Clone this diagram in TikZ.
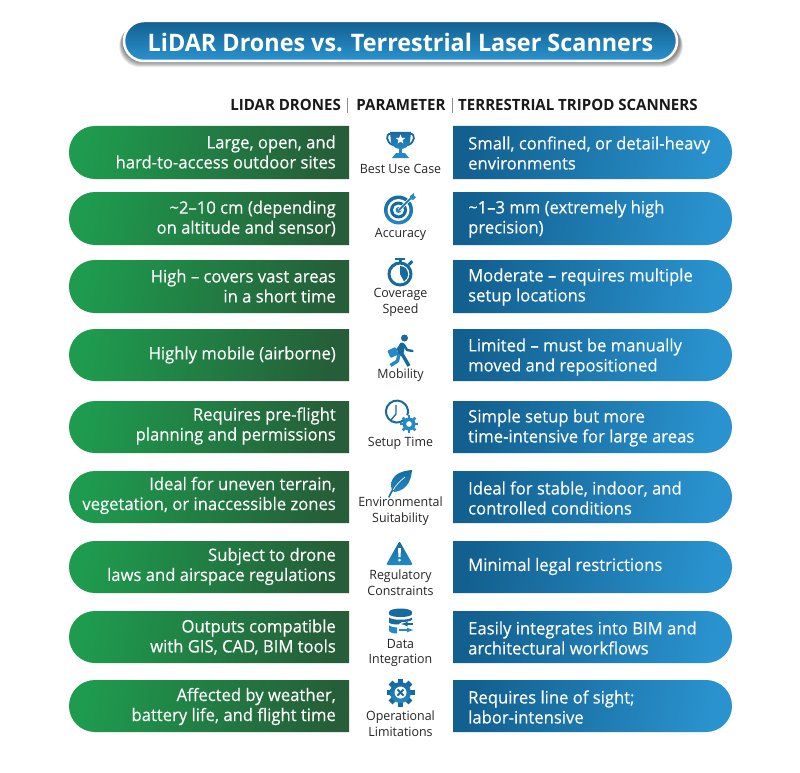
\documentclass[tikz,border=0pt]{standalone}
\usepackage{fontspec}
\setmainfont{Open Sans}[FakeStretch=0.97]
\newfontfamily\medfont{Open Sans}[FakeStretch=0.97,FakeBold=0.25]
\usetikzlibrary{shapes.geometric}
\definecolor{gl}{HTML}{1E9B4E}
\definecolor{gd}{HTML}{255E38}
\definecolor{bd}{HTML}{12608F}
\definecolor{bl}{HTML}{2A93CF}
\definecolor{ic}{HTML}{176A9E}
\definecolor{icl}{HTML}{2489C4}
\tikzset{
  x=1pt,y=-1pt,
  ltext/.style={anchor=east,align=right,text=white,font=\medfont\fontsize{17.15}{20}\selectfont,inner sep=0pt},
  rtext/.style={anchor=west,align=left,text=white,font=\medfont\fontsize{17.15}{20}\selectfont,inner sep=0pt},
  ptext/.style={align=center,text=black!85,font=\fontsize{12.8}{15.7}\selectfont,inner sep=0pt},
  htext/.style={inner sep=0pt,text=black!90,font=\fontsize{15.5}{16}\selectfont\bfseries},
  iconfill/.style={top color=ic,bottom color=icl},
}
\newcommand{\lpill}[2]{\shade[left color=gl,right color=gd,shading angle=80] (349,#1) [rounded corners=26pt] -- (69,#1) -- (69,#2) [sharp corners] -- (349,#2) -- cycle;}
\newcommand{\rpill}[2]{\shade[left color=bd,right color=bl,shading angle=80] (453,#1) [rounded corners=26pt] -- (732,#1) -- (732,#2) [sharp corners] -- (453,#2) -- cycle;}
\begin{document}
\begin{tikzpicture}
\useasboundingbox (0,0) rectangle (800,773);
\fill[white] (0,0) rectangle (800,773);
% title
\foreach \d in {0,1,...,7}{
  \fill[black,opacity=0.07,rounded corners=21pt] (122-\d*0.4,22+\d*0.4) rectangle (680+\d*0.4,62+\d*0.75);
}
\shade[top color=bd,bottom color=bl,draw=white,line width=2.5pt,rounded corners=20pt] (124,21) rectangle (677,61);
\node[inner sep=0pt,text=white,font=\fontsize{24.1}{30}\selectfont\bfseries] (title) at (400.5,43) {LiDAR Drones vs. Terrestrial Laser Scanners};
% header
\node[htext,anchor=base east] (h1) at (341,110.5) {LIDAR DRONES};
\node[htext,anchor=base] (h2) at (401,110.5) {PARAMETER};
\node[htext,anchor=base west] (h3) at (458,110.5) {TERRESTRIAL TRIPOD SCANNERS};
\draw[black!45,line width=0.6pt] (347,98) -- (347,113) (452,98) -- (452,113);
% pills
\lpill{126}{179}\rpill{126}{179}
\lpill{192}{245}\rpill{192}{245}
\lpill{260}{313}\rpill{260}{313}
\lpill{329}{381}\rpill{329}{381}
\lpill{401}{453}\rpill{401}{453}
\lpill{471}{523}\rpill{471}{523}
\lpill{541}{593}\rpill{541}{593}
\lpill{611}{663}\rpill{611}{663}
\lpill{680}{732}\rpill{680}{732}
% left text
\node[ltext] (l1) at (336,152) {Large, open, and\\hard-to-access outdoor sites};
\node[ltext] (l2) at (336,218.5) {\textasciitilde 2–10 cm (depending\\on altitude and sensor)};
\node[ltext] (l3) at (336,286) {High – covers vast areas\\in a short time};
\node[ltext] (l4) at (336,355) {Highly mobile (airborne)};
\node[ltext] (l5) at (336,426) {Requires pre-flight\\planning and permissions};
\node[ltext] (l6) at (336,495.5) {Ideal for uneven terrain,\\vegetation, or inaccessible zones};
\node[ltext] (l7) at (336,566.5) {Subject to drone\\laws and airspace regulations};
\node[ltext] (l8) at (336,637) {Outputs compatible\\with GIS, CAD, BIM tools};
\node[ltext] (l9) at (336,706.5) {Affected by weather,\\battery life, and flight time};
% right text
\node[rtext] (r1) at (468,153) {Small, confined, or detail-heavy\\environments};
\node[rtext] (r2) at (468,219) {\textasciitilde 1–3 mm (extremely high\\precision)};
\node[rtext] (r3) at (468,287) {Moderate – requires multiple\\setup locations};
\node[rtext] (r4) at (468,357) {Limited – must be manually\\moved and repositioned};
\node[rtext] (r5) at (468,428) {Simple setup but more\\time-intensive for large areas};
\node[rtext] (r6) at (468,498) {Ideal for stable, indoor, and\\controlled conditions};
\node[rtext] (r7) at (468,566.5) {Minimal legal restrictions};
\node[rtext] (r8) at (468,638) {Easily integrates into BIM and\\architectural workflows};
\node[rtext] (r9) at (468,707) {Requires line of sight;\\labor-intensive};
% parameter labels
\node[ptext] (p1) at (400.5,168.5) {Best Use Case};
\node[ptext] (p2) at (400.5,234) {Accuracy};
\node[ptext] (p3) at (400.5,302.5) {Coverage\\Speed};
\node[ptext] (p4) at (400.5,375) {Mobility};
\node[ptext] (p5) at (400.5,443) {Setup Time};
\node[ptext] (p6) at (400.5,511.5) {Environmental\\Suitability};
\node[ptext] (p7) at (400.5,582.5) {Regulatory\\Constraints};
\node[ptext] (p8) at (400.5,653) {Data\\Integration};
\node[ptext] (p9) at (400.5,724) {Operational\\Limitations};
% trophy
\draw[ic,line width=1.8pt] (391,134) .. controls (385,133) and (386,143) .. (393,145);
\draw[ic,line width=1.8pt] (410,134) .. controls (416,133) and (415,143) .. (408,145);
\shade[iconfill] (390,132) -- (411,132) -- (410,142) .. controls (409,147) and (404,149) .. (400.5,149) .. controls (397,149) and (392,147) .. (391,142) -- cycle;
\fill[icl] (399,149) rectangle (402,154);
\fill[icl] (396,153) -- (405,153) -- (409,158) -- (392,158) -- cycle;
\node[star,star points=5,star point ratio=2.3,fill=white,inner sep=0pt,minimum size=10pt] (trophystar) at (400.5,139.5) {};
% target
\shade[iconfill] (398.5,210) circle (14.5);
\fill[white] (398.5,210) circle (11);
\fill[ic] (398.5,210) circle (8.5);
\fill[white] (398.5,210) circle (5.5);
\fill[icl] (398.5,210) circle (3);
\draw[white,line width=3pt] (399,210) -- (412,197);
\draw[ic,line width=1.5pt] (399,210) -- (412,197);
\fill[icl] (410,196) -- (414,193) -- (414,196) -- (416,197) -- (413,200) -- (410,199) -- cycle;
% stopwatch
\draw[ic,line width=3pt] (400,274) circle (11);
\fill[ic] (395,257.5) rectangle (405,260);
\fill[ic] (398.5,260) rectangle (401.5,263);
\fill[ic,rotate around={45:(410.5,263)}] (408,261.5) rectangle (413,264.5);
\fill[ic] (400,274) -- (400,266) .. controls (405,266) and (408,270) .. (408,274) .. controls (408,278) and (406,280) .. (404,281.5) -- cycle;
% walker
\fill[ic] (404.5,338) circle (3.5);
\draw[ic,line width=6pt,line cap=round] (402,345.5) -- (400.5,353);
\draw[ic,line width=2.4pt,line cap=round,line join=round] (404,345) -- (407,350) -- (412.5,351);
\draw[ic,line width=3.4pt,line join=round] (402,354) -- (405,359) -- (409,366);
\draw[icl,line width=3.4pt,line join=round] (399,354) -- (397.5,361) -- (390.5,365.5);
\draw[ic,line width=2pt,line cap=round] (400,346) -- (396,351);
\fill[icl,rounded corners=1pt,rotate around={25:(393,352.5)}] (388.5,348.5) rectangle (397.5,356.5);
% clock + gear
\draw[ic,line width=2pt] (404,420) arc[start angle=50,end angle=380,radius=11] ;
\draw[ic,line width=1.3pt] (396,405) -- (396,414) -- (391,420);
\foreach \a in {0,45,...,315}{\fill[icl] (409,424) ++(\a:6) ++(\a+90:1.4) -- ++(\a:3) -- ++(\a+90:-2.8) -- ++(\a:-3) -- cycle;}
\fill[icl] (409,424) circle (6.5);
\fill[white] (409,424) circle (2.8);
% leaf
\shade[top color=ic,bottom color=icl] (412,470) .. controls (399,471) and (391,476) .. (391,486) .. controls (391,489) and (392,491) .. (394,492) .. controls (404,491) and (411,484) .. (412,470) -- cycle;
\draw[ic,line width=1.6pt,line cap=round] (389,497) .. controls (392,490) and (397,482) .. (405,477);
\draw[white,line width=0.7pt] (393,490) .. controls (396,485) and (400,481) .. (405,477);
% warning
\shade[iconfill,rounded corners=2pt] (399.5,541) -- (413,565) -- (386,565) -- cycle;
\fill[white] (398,548) -- (401,548) -- (400.5,557) -- (398.5,557) -- cycle;
\fill[white] (399.5,560) circle (1.5);
% database
\fill[ic] (400.5,612) ellipse (11.5 and 3.5);
\fill[ic] (389,612) rectangle (412,614);
\fill[ic] (400.5,614) ellipse (11.5 and 3);
\fill[ic] (389,617.5) .. controls (392,620.5) and (409,620.5) .. (412,617.5) -- (412,620) .. controls (410,621.5) and (405,622) .. (402,622) -- (398,624.5) .. controls (394,624.5) and (390,624) .. (389,622.5) -- cycle;
\fill[icl] (389,625.5) .. controls (391,627) and (394,627.5) .. (397,627.5) -- (397,633.5) .. controls (393,633.5) and (390,633) .. (389,631) -- cycle;
\draw[ic,line width=1.3pt,-latex] (413,624) -- (401,624);
\draw[icl,line width=1.3pt,-latex] (399,630) -- (413.5,630);
% gear with x
\foreach \a in {0,45,...,315}{\fill[ic] (400.5,692.5) ++(\a:9) ++(\a+90:2.8) -- ++(\a:5) -- ++(\a+90:-5.6) -- ++(\a:-5) -- cycle;}
\shade[iconfill] (400.5,692.5) circle (10.5);
\fill[white] (400.5,692.5) circle (6);
\draw[ic,line width=1.8pt] (397.5,689.5) -- (403.5,695.5) (403.5,689.5) -- (397.5,695.5);
\end{tikzpicture}
\end{document}
